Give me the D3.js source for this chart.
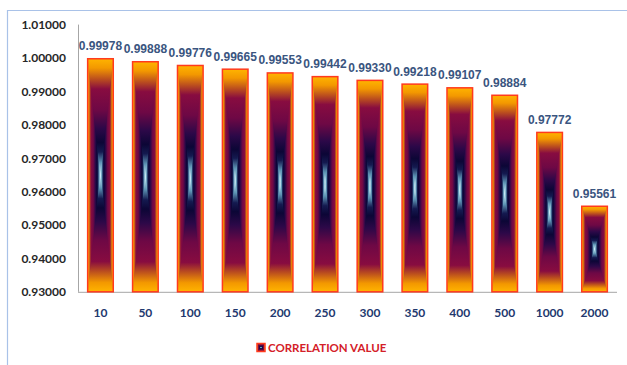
<!DOCTYPE html>
<html>
<head>
<meta charset="utf-8">
<script src="https://cdn.jsdelivr.net/npm/d3@7"></script>
<style>
  html, body { margin: 0; padding: 0; background: #fff; }
  svg { display: block; }
</style>
</head>
<body>
<svg id="chart" width="627" height="365"></svg>
<script>
// Window sizes (x axis categories)
const categories = ["10", "50", "100", "150", "200", "250", "300", "350", "400", "500", "1000", "2000"];
// Correlation value for each window size
const values = [0.99978, 0.99888, 0.99776, 0.99665, 0.99553, 0.99442, 0.99330, 0.99218, 0.99107, 0.98884, 0.97772, 0.95561];
// Y axis ticks
const yTicks = [0.93, 0.94, 0.95, 0.96, 0.97, 0.98, 0.99, 1.00, 1.01];
const seriesName = "CORRELATION VALUE";

const svg = d3.select("#chart");
const fmt = d3.format(".5f");

const x = d3.scaleBand()
  .domain(categories)
  .range([78, 617])
  .paddingInner(0.43)
  .paddingOuter(0.215);

const y = d3.scaleLinear()
  .domain([0.93, 1.01])
  .range([291.8, 24.6]);

// Colour ramp from the bar edge (0) to its centre (1)
const ramp = [
  [0.00, "#ffb400"],
  [0.08, "#f39800"],
  [0.18, "#b84a20"],
  [0.26, "#880c40"],
  [0.44, "#6e0845"],
  [0.60, "#2c0848"],
  [0.72, "#0c0636"],
  [0.80, "#141a50"],
  [0.89, "#5d94b4"],
  [1.00, "#cdeefa"]
];

const defs = svg.append("defs");

function addGradient(id, stops) {
  const g = defs.append("linearGradient")
    .attr("id", id)
    .attr("x1", 0).attr("y1", 0).attr("x2", 1).attr("y2", 0);
  stops.forEach(([o, c]) => g.append("stop").attr("offset", o).attr("stop-color", c));
}
// Full-height symmetric gradient for the base rectangle
const full = defs.append("linearGradient")
  .attr("id", "gFull").attr("x1", 0).attr("y1", 0).attr("x2", 0).attr("y2", 1);
ramp.forEach(([o, c]) => full.append("stop").attr("offset", o / 2).attr("stop-color", c));
ramp.slice().reverse().forEach(([o, c]) => full.append("stop").attr("offset", 1 - o / 2).attr("stop-color", c));
// Side gradients for the left / right wedges
addGradient("gLeft", ramp);
addGradient("gRight", ramp.slice().reverse().map(([o, c]) => [1 - o, c]));

// Chart frame
svg.append("line").attr("x1", 7).attr("x2", 627).attr("y1", 10.5).attr("y2", 10.5)
  .attr("stroke", "#a9c2e8").attr("stroke-width", 1.2);
svg.append("line").attr("x1", 7.5).attr("x2", 7.5).attr("y1", 10).attr("y2", 365)
  .attr("stroke", "#a9c2e8").attr("stroke-width", 1.2);

// Axes
svg.append("line").attr("x1", 78.5).attr("x2", 78.5).attr("y1", y(1.01)).attr("y2", y(0.93))
  .attr("stroke", "#a6a6a6").attr("stroke-width", 1);
svg.append("line").attr("x1", 78).attr("x2", 617).attr("y1", y(0.93) + 0.5).attr("y2", y(0.93) + 0.5)
  .attr("stroke", "#a6a6a6").attr("stroke-width", 1);

svg.append("g").selectAll("text").data(yTicks).join("text")
  .attr("x", 66).attr("y", d => y(d)).attr("dy", "0.36em")
  .attr("text-anchor", "end")
  .attr("font-family", "Lato, 'Open Sans', sans-serif")
  .attr("font-weight", "bold").attr("font-size", 12)
  .attr("fill", "#262626")
  .text(d => fmt(d));

svg.append("g").selectAll("text").data(categories).join("text")
  .attr("x", d => x(d) + x.bandwidth() / 2).attr("y", 317)
  .attr("text-anchor", "middle")
  .attr("font-family", "Lato, 'Open Sans', sans-serif")
  .attr("font-weight", "bold").attr("font-size", 12)
  .attr("fill", "#22386e")
  .text(d => d);

// Bars drawn as a rectangular gradient: vertical base plus side wedges
function drawBar(g, x0, y0, w, h) {
  const cx = x0 + w / 2, cy = y0 + h / 2;
  g.append("rect").attr("x", x0).attr("y", y0).attr("width", w).attr("height", h)
    .attr("fill", "url(#gFull)");
  g.append("path")
    .attr("d", `M${x0},${y0}L${cx},${cy}L${x0},${y0 + h}Z`)
    .attr("fill", "url(#gLeft)");
  g.append("path")
    .attr("d", `M${x0 + w},${y0}L${cx},${cy}L${x0 + w},${y0 + h}Z`)
    .attr("fill", "url(#gRight)");
  g.append("rect").attr("x", x0).attr("y", y0).attr("width", w).attr("height", h)
    .attr("fill", "none").attr("stroke", "#ff3a1e").attr("stroke-width", 1.5);
}

const bars = svg.append("g");
categories.forEach((c, i) => {
  const v = values[i];
  drawBar(bars.append("g"), x(c), y(v), x.bandwidth(), y(0.93) - y(v));
});

svg.append("g").selectAll("text").data(categories).join("text")
  .attr("x", d => x(d) + x.bandwidth() / 2)
  .attr("y", (d, i) => y(values[i]) - 8.5)
  .attr("text-anchor", "middle")
  .attr("font-family", "'Liberation Sans', Arial, sans-serif")
  .attr("font-weight", "bold").attr("font-size", 12)
  .attr("fill", "#3a5580")
  .text((d, i) => fmt(values[i]));

// Legend
const lg = svg.append("g");
drawBar(lg.append("g"), 257, 343.5, 8, 8);
lg.append("text")
  .attr("x", 268).attr("y", 351.5)
  .attr("font-family", "Lato, 'Open Sans', sans-serif")
  .attr("font-weight", "bold").attr("font-size", 11.5)
  .attr("fill", "#d42028")
  .text(seriesName);
</script>
</body>
</html>
